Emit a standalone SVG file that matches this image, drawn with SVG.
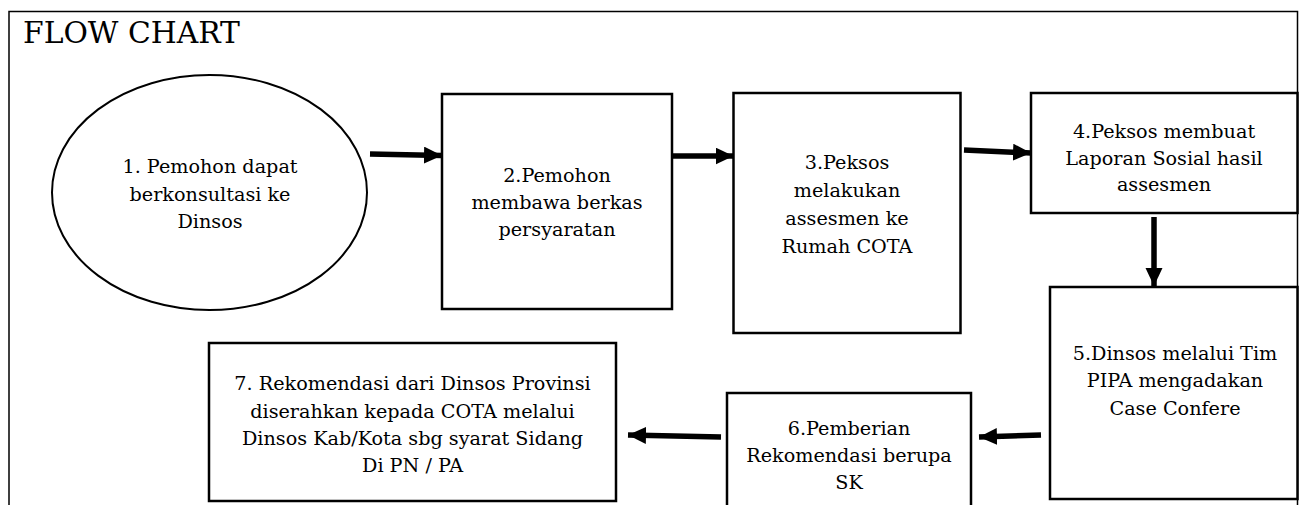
<svg xmlns="http://www.w3.org/2000/svg" width="1299" height="505" viewBox="0 0 1299 505">
<style>
.box{fill:#fff;stroke:#000;stroke-width:2.5}
.lbl{font-size:19.2px;fill:#000;text-anchor:middle}
.con{stroke:#000;stroke-width:5.5;fill:none}
</style>
<defs>
<marker id="ah" markerUnits="userSpaceOnUse" markerWidth="20" markerHeight="18" refX="18" refY="8.5" orient="auto">
<path d="M0,0 L18,8.5 L0,17 Z" fill="#000"/>
</marker>
</defs>
<rect width="1299" height="505" fill="#fff"/>
<path d="M9,505 V11.5 H1297.5 V505" fill="none" stroke="#000" stroke-width="1.5"/>
<text x="23" y="43" font-family="DejaVu Serif,serif" font-size="29" textLength="217" lengthAdjust="spacingAndGlyphs">FLOW CHART</text>
<g font-family="DejaVu Serif, serif">
<g id="n1">
<ellipse cx="209.5" cy="192.5" rx="157.5" ry="117.5" fill="#fff" stroke="#000" stroke-width="2"/>
<text class="lbl" x="210" y="172.5">1. Pemohon dapat</text>
<text class="lbl" x="210" y="200.5">berkonsultasi ke</text>
<text class="lbl" x="210" y="228">Dinsos</text>
</g>
<g id="n2">
<rect class="box" x="442" y="94" width="230" height="215"/>
<text class="lbl" x="557" y="182">2.Pemohon</text>
<text class="lbl" x="557" y="208.5">membawa berkas</text>
<text class="lbl" x="557" y="235.5">persyaratan</text>
</g>
<g id="n3">
<rect class="box" x="733.5" y="93" width="227" height="240"/>
<text class="lbl" x="847" y="169">3.Peksos</text>
<text class="lbl" x="847" y="197">melakukan</text>
<text class="lbl" x="847" y="225">assesmen ke</text>
<text class="lbl" x="847" y="253">Rumah COTA</text>
</g>
<g id="n4">
<rect class="box" x="1031" y="93" width="266.5" height="120"/>
<text class="lbl" x="1164" y="138">4.Peksos membuat</text>
<text class="lbl" x="1164" y="165">Laporan Sosial hasil</text>
<text class="lbl" x="1164" y="191">assesmen</text>
</g>
<g id="n5">
<rect class="box" x="1050" y="287" width="247.5" height="212"/>
<text class="lbl" x="1175" y="360">5.Dinsos melalui Tim</text>
<text class="lbl" x="1175" y="387">PIPA mengadakan</text>
<text class="lbl" x="1175" y="415">Case Confere</text>
</g>
<g id="n6">
<rect class="box" x="727" y="393" width="244" height="120"/>
<text class="lbl" x="849" y="435">6.Pemberian</text>
<text class="lbl" x="849" y="462">Rekomendasi berupa</text>
<text class="lbl" x="849" y="489">SK</text>
</g>
<g id="n7">
<rect class="box" x="209" y="343" width="407" height="158"/>
<text class="lbl" x="412.5" y="390">7. Rekomendasi dari Dinsos Provinsi</text>
<text class="lbl" x="412.5" y="418">diserahkan kepada COTA melalui</text>
<text class="lbl" x="412.5" y="445">Dinsos Kab/Kota sbg syarat Sidang</text>
<text class="lbl" x="412.5" y="472">Di PN / PA</text>
</g>
</g>
<g id="connectors">
<line class="con" x1="370" y1="154" x2="442" y2="155.5" marker-end="url(#ah)"/>
<line class="con" x1="672" y1="156" x2="733.5" y2="156" marker-end="url(#ah)"/>
<line class="con" x1="964" y1="150" x2="1031" y2="153" marker-end="url(#ah)"/>
<line class="con" x1="1154" y1="217" x2="1154" y2="286" marker-end="url(#ah)"/>
<line class="con" x1="1041" y1="435" x2="979" y2="437" marker-end="url(#ah)"/>
<line class="con" x1="721" y1="437" x2="628" y2="435" marker-end="url(#ah)"/>
</g>
</svg>
